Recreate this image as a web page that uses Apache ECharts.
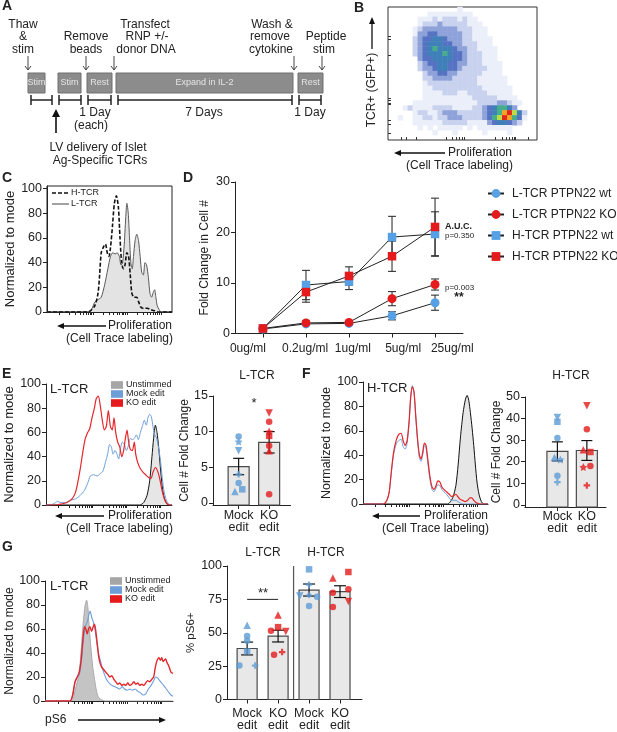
<!DOCTYPE html>
<html><head><meta charset="utf-8">
<script src="https://cdn.jsdelivr.net/npm/echarts@6/dist/echarts.min.js"></script>
<style>html,body{margin:0;padding:0;background:#fff}#c{width:617px;height:732px}</style>
</head><body><div id="c"></div><script>
const FONT = '"Liberation Sans", Arial, Helvetica, sans-serif';
const BLUE = '#5b9bd5', RED = '#e41a1c', DBLUE = '#56a0e6';

// ---------- Panel B: density grid (rows top->bottom, level 0-9)
const bDensity = [
"000000000000001000000000000000",
"000000001111111110000000000000",
"000000111212221211000000000000",
"000000122232222211100000000000",
"000001233333332221110000000000",
"000001334433333221110000000000",
"000002344554333221111000000000",
"000002345554433222111000000000",
"000002345655543322111100000000",
"000002345556544322211100000000",
"000000344555544322211100000000",
"000000234455443322211110000000",
"000000233455443222221110000000",
"000000023344332222211110000000",
"000000022333322222111111000000",
"000000012222222222111111000000",
"000000011222222222211111100000",
"000000011112221122221111100000",
"000000011111111112222211110000",
"000001111111111111222233211000",
"000121111222211112234566530000",
"000001221123332222234568975200",
"001001122122333222234679864100",
"000001111112222211113455432000",
"000000101011111010111111100000",
"000000000100010000010000100000",
"000000000000000000000000000000"];
const bColors = ['#ffffff','#ebeff9','#c8d2ee','#8ea2d9','#5573c2','#3f80b8','#47ae8c','#bddc45','#f4a323','#e5231d'];
// B axis tick positions (0-100 scale of each axis)
const bTicksX = [8.7,12,18.7,38.8,43.2,45.9,48.1,49.9,51.2,72.2,76.6,79.3,81.5,83.3,84.6,85.5,94.4];
const bTicksY = [4.9,12.2,14.6,26.8,28,29.8,31.7,63.4,75.6,78];

// ---------- Panel C histograms [channel, % of mode]
const cHTCR = [[0,0],[31.6,0],[34.2,0.5],[38.2,5],[40.8,15],[42.1,30],[43.4,48],[45.3,53],[46.8,55],[48.2,48],[49.5,45],[50.8,52],[52.4,70],[53.9,88],[55.5,94],[57.1,85],[58.4,60],[59.7,40],[61.1,35],[62.4,38],[63.9,48],[65.3,45],[66.6,30],[67.9,15],[69.7,12],[71.8,12],[73.4,8],[75,4],[77.1,3],[80.3,3],[82.9,2],[86.1,1],[88.7,0],[100,0]];
const cLTCR = [[0,0],[31.6,0],[35.5,2],[38.2,8],[40.8,10],[43.4,12],[46.1,22],[48.7,35],[50.8,45],[52.6,48],[54.5,47],[56.1,48],[57.9,45],[59.2,38],[60.5,40],[61.8,55],[63.2,80],[63.9,88],[65,80],[66,60],[67.1,40],[68.2,35],[69.2,45],[70.5,58],[71.8,63],[73.2,58],[74.5,45],[75.8,32],[77.1,30],[78.4,40],[79.7,38],[81.1,28],[82.4,15],[83.7,12],[85,16],[86.1,18],[87.1,12],[88.2,5],[89.7,2],[91.3,0],[100,0]];
// log-decade starts used for histogram x-axis ticks
const histDecades = [10, 37, 64];

// ---------- Panel D
const doseLabels = ['0ug/ml','0.2ug/ml','1ug/ml','5ug/ml','25ug/ml'];
const ltcrWt = [0.9,1.9,2.0,3.5,6.1],  ltcrWtSem = [0.1,0.3,0.3,0.8,1.5];
const ltcrKo = [1.0,2.1,2.2,6.9,9.7],  ltcrKoSem = [0.1,0.4,0.3,1.4,1.1];
const htcrWt = [1.0,9.6,10.3,19.1,19.7], htcrWtSem = [0.1,2.9,1.6,4.1,4.4];
const htcrKo = [1.0,8.2,11.4,15.3,21.1], htcrKoSem = [0.1,2.0,1.8,3.0,5.7];
const dNames = ['L-TCR PTPN22 wt','L-TCR PTPN22 KO','H-TCR PTPN22 wt','H-TCR PTPN22 KO'];

// ---------- Panel E histograms
const eUnstim = [[0,0],[74.3,0],[77.5,2],[80.2,8],[82.3,20],[84.1,40],[85.4,55],[86.8,66],[88.1,60],[89.4,48],[90.7,32],[92.3,15],[93.9,6],[96,1],[98.1,0],[100,0]];
const eMock = [[0,0],[2.1,0],[6.1,1],[9.3,3],[11.4,2],[15.3,2],[19.3,4],[23.3,5],[27.2,8],[30.4,12],[33.1,18],[35.2,24],[37.8,25],[40.5,24],[43.1,26],[45.2,28],[47.1,35],[48.9,42],[50.5,50],[51.9,48],[53.2,42],[54.8,45],[56.3,42],[57.7,38],[59,46],[60.6,52],[62.2,50],[63.8,45],[65.1,48],[66.9,55],[68.5,54],[70.1,55],[71.7,58],[73.3,54],[74.9,60],[76.5,65],[78,70],[79.6,66],[80.9,72],[82.3,75],[83.6,73],[84.9,65],[86.2,58],[87.6,56],[89.2,48],[90.7,38],[92.3,22],[93.9,10],[96,3],[98.7,0],[100,0]];
const eKO = [[0,0],[8.7,0],[12.7,1],[16.7,2],[20.6,5],[23.3,10],[25.1,18],[27.2,30],[29.4,45],[31.2,55],[33.1,60],[34.7,63],[36.5,72],[38.4,80],[39.9,88],[41.5,90],[43.1,82],[44.7,70],[46.3,62],[47.9,65],[49.5,78],[51.1,65],[52.6,62],[54,72],[55.3,60],[56.9,52],[58.5,48],[60.1,40],[61.6,45],[63,55],[64.3,62],[65.6,52],[66.9,46],[68.5,45],[70.1,52],[71.2,42],[72.8,35],[74.9,30],[77.1,27],[79.1,25],[81.2,23],[83.3,22],[84.9,27],[86.8,31],[88.6,28],[90.2,22],[92.1,12],[93.9,5],[96,1],[98.1,0],[100,0]];

// ---------- Panel E bars (L-TCR cell # fold change)
const editLabels = ['Mock\nedit','KO\nedit'];
const eMeans = [5.1, 8.5], eSems = [1.15, 1.5];
const eMockPts = [9.3,8.6,7.3,4.0,2.8,1.6,1.9], eMockSym = ['o','*','v','+','o','^','s'], eMockDx = [0,0,0,0,0,-0.12,0.12];
const eKoPts = [12.6,11.4,10.0,9.4,8.0,7.3,1.2], eKoSym = ['v','o','*','s','o','^','o'], eKoDx = [0,0,0,0,0,0,0];

// ---------- Panel F histograms
const fUnstim = [[0,0],[67.6,0],[70,2],[72.1,6],[74.3,15],[76.1,32],[78,55],[80.1,75],[82,86],[83.3,89],[84.6,85],[85.9,75],[87.3,62],[88.6,48],[89.9,32],[91.2,18],[92.8,8],[94.7,2],[96.6,0],[100,0]];
const fMock = [[0,0],[16.4,0],[19.1,3],[21,10],[22.5,24],[24.4,40],[26.5,49],[28.6,52],[30.5,53],[32.1,47],[33.7,45],[35.3,50],[36.9,67],[38.2,88],[39.5,97],[40.8,92],[42.2,72],[43.5,54],[45.1,38],[46.4,35],[47.7,40],[49.1,48],[50.4,46],[51.7,35],[53.6,20],[55.2,12],[56.8,10],[58.4,13],[59.9,16],[61.5,15],[63.1,12],[64.7,10],[66.8,8],[69,5],[70.8,3],[72.7,3],[74.3,3],[75.9,2],[77.5,1],[80.1,0],[100,0]];
const fKO = [[0,0],[16.4,0],[19.1,3],[21,10],[22.5,25],[24.4,42],[26.5,52],[28.6,57],[30.5,58],[32.1,52],[33.7,48],[35.3,52],[36.9,68],[38.2,88],[39.5,96],[40.8,92],[42.2,72],[43.5,55],[45.1,40],[46.4,37],[47.7,42],[49.1,50],[50.4,48],[51.7,38],[53.6,22],[55.2,14],[56.8,12],[58.4,15],[59.9,19],[61.5,18],[63.1,14],[64.7,12],[66.8,10],[69,8],[70.8,6],[72.7,7],[74.3,8],[75.9,6],[77.5,4],[79.6,3],[81.7,2],[83.8,3],[85.4,5],[87,5],[88.6,3],[90.7,1],[93.4,0],[100,0]];

// ---------- Panel F bars (H-TCR)
const fMeans = [24.8, 25.2], fSems = [4.4, 4.6];
const fMockPts = [40.5,38.5,31,22,21,13.5,10.5], fMockSym = ['v','s','o','^','*','o','+'], fMockDx = [0,0,0,-0.1,0.1,0,0];
const fKoPts = [46,35,25.5,24.5,18,17.5,9], fKoSym = ['v','o','^','s','o','*','+'], fKoDx = [0,0,-0.12,0.12,0.12,-0.12,0];

// ---------- Panel G histograms
const gUnstim = [[0,0],[20.8,0],[22.6,5],[24.2,12],[25.7,18],[27.3,30],[28.8,50],[30.1,68],[31.4,80],[32.5,84],[33.5,78],[34.5,62],[35.8,45],[37.1,30],[38.7,18],[40.3,8],[41.8,3],[44.2,1],[46.8,0],[100,0]];
const gMock = [[0,0],[19.5,0],[21.6,5],[23.4,15],[25.2,20],[26.8,22],[28.3,32],[29.9,50],[31.4,62],[33,66],[34.3,72],[35.3,75],[36.4,70],[37.7,66],[39,60],[40.3,50],[41.8,40],[43.4,33],[44.9,27],[46.5,22],[48.1,18],[50.1,15],[52.2,13],[54.3,12],[56.4,11],[58.4,10],[60.3,12],[62.1,10],[64.2,9],[66.2,10],[68.3,9],[70.4,10],[72.5,8],[74.5,7],[76.6,5],[78.7,6],[80.8,10],[82.9,13],[84.9,17],[86.5,20],[88.1,19],[89.6,17],[91.2,15],[92.7,13],[94.8,10],[96.9,7],[98.4,5],[100,4]];
const gKO = [[0,0],[19.5,0],[21.6,5],[23.4,16],[25.2,20],[26.8,24],[28.3,35],[29.9,55],[30.9,62],[31.9,60],[33,56],[34,60],[35.1,62],[36.4,58],[37.7,62],[38.7,64],[39.7,58],[40.8,48],[41.8,38],[42.9,32],[44.4,28],[46,26],[47.5,24],[49.1,22],[50.6,20],[52.2,21],[53.8,18],[55.3,16],[56.9,14],[58.4,15],[60,13],[61.6,14],[63.1,13],[64.7,15],[66.2,13],[67.8,14],[69.4,16],[70.9,14],[72.5,15],[74,13],[75.6,14],[77.1,13],[78.7,15],[80.3,17],[81.8,16],[83.4,18],[84.9,20],[86,27],[87,32],[88.1,35],[89.1,36],[90.1,34],[91.2,36],[92.2,33],[93.2,34],[94.3,35],[95.3,32],[96.4,30],[97.4,27],[98.4,24],[100,23]];

// ---------- Panel G bars (% pS6+)
const gLabels = ['Mock\nedit','KO\nedit','Mock\nedit','KO\nedit'];
const gMeans = [38.2, 47.5, 82.0, 80.8], gSems = [4.8, 4.4, 4.5, 4.4];
const gMockLPts = [55.7,47.5,44,36,25.4,25.4], gMockLSym = ['^','o','o','s','o','+'], gMockLDx = [0,0,0,0,-0.25,0.26];
const gKoLPts = [63.3,54.2,51.5,51,33.5,35.5], gKoLSym = ['^','s','o','v','o','+'], gKoLDx = [0,0,-0.23,0.25,-0.13,0.13];
const gMockHPts = [97.5,86,77.5,78,77,70], gMockHSym = ['s','+','v','d','o','o'], gMockHDx = [0,0,-0.3,0,0.26,0];
const gKoHPts = [91,95.5,80,82.5,69.2,73.4], gKoHSym = ['^','s','o','o','o','v'], gKoHDx = [-0.23,0.27,-0.23,0.27,-0.23,0.27];

// ================= build =================
const SYM = {
  'o':'circle','^':'triangle','s':'rect','d':'diamond',
  'v':'path://M-5,-4L5,-4L0,5Z',
  '*':'path://M0,-10L2.9,-4L9.5,-3.1L4.7,1.5L5.9,8.1L0,5L-5.9,8.1L-4.7,1.5L-9.5,-3.1L-2.9,-4Z',
  '+':'path://M-2,-6H2V-2H6V2H2V6H-2V2H-6V-2H-2Z'
};
const grids=[], xAxes=[], yAxes=[], series=[], G=[];
const AX = '#222';
const lineS = {show:true, onZero:false, lineStyle:{color:AX, width:1}};
const lab = (o)=>Object.assign({color:AX, fontFamily:FONT, fontSize:12.5}, o||{});
function addGrid(g){ grids.push(g); return grids.length-1; }
const histTicks = [];
histDecades.forEach(d=>{for(let k=1;k<=9;k++) histTicks.push(+(d+27*Math.log10(k)).toFixed(2));});
histTicks.push(91);

// Panel B heatmap
const gB = addGrid({left:388, top:7, width:149, height:133, show:true, borderColor:'#333', borderWidth:1, backgroundColor:'#fff'});
xAxes.push({gridIndex:gB, type:'category', data:bDensity[0].split('').map((_,i)=>i), show:false});
yAxes.push({gridIndex:gB, type:'category', data:bDensity.map((_,i)=>i), inverse:true, show:false});
const bData=[];
bDensity.forEach((row,r)=>row.split('').forEach((ch,c)=>{const v=+ch; if(v>0) bData.push([c,r,v]);}));
series.push({type:'heatmap', xAxisIndex:gB, yAxisIndex:gB, data:bData, silent:true});
const heatIdx = series.length-1;

// Histogram grids
function histGrid(g, yName, nameGap, nameSize, ymax){
  const gi = addGrid(g);
  xAxes.push({gridIndex:gi, type:'value', min:0, max:100, axisLine:lineS,
    axisTick:{show:true, length:3, lineStyle:{color:AX}, customValues:histTicks}, axisLabel:{show:false}, splitLine:{show:false}});
  yAxes.push({gridIndex:gi, type:'value', min:0, max:ymax||100, axisLine:lineS,
    axisTick:{show:true, length:4, lineStyle:{color:AX}, customValues:[0,20,40,60,80,100]},
    axisLabel:lab({customValues:[0,20,40,60,80,100], margin:5}), splitLine:{show:false},
    name:yName, nameLocation:'middle', nameGap:nameGap, nameTextStyle:{fontFamily:FONT, fontSize:nameSize, color:AX}});
  return gi;
}
function hist(gi, data, color, width, opts){
  series.push(Object.assign({type:'line', xAxisIndex:gi, yAxisIndex:gi, data, showSymbol:false, symbol:'none', smooth:0.25, silent:true,
    lineStyle:{color, width}}, opts||{}));
}
// C
const gC = histGrid({left:47, top:186, width:125, height:126, show:true, borderColor:AX, borderWidth:1}, 'Normalized to mode', 26, 13, 102);
hist(gC, cLTCR, '#5a5a5a', 1, {areaStyle:{color:'#e3e3e3', opacity:1}});
hist(gC, cHTCR, '#111', 1.6, {lineStyle:{color:'#111', width:1.6, type:[4,2]}});

// D
const gD = addGrid({left:235, top:182, width:228, height:151.5});
xAxes.push({gridIndex:gD, type:'value', min:-0.65, max:4.65, axisLine:lineS,
  axisTick:{show:true, length:4, lineStyle:{color:AX}, customValues:[0,1,2,3,4]},
  axisLabel:lab({customValues:[-0.35,0.98,2.09,3.26,4.4], formatter:v=>doseLabels[Math.round(v)], margin:9, fontSize:12}), splitLine:{show:false}});
yAxes.push({gridIndex:gD, type:'value', min:0, max:30, axisLine:lineS,
  axisTick:{show:true, length:4, lineStyle:{color:AX}, customValues:[0,10,20,30]},
  axisLabel:lab({customValues:[0,10,20,30], margin:5}), splitLine:{show:false},
  name:'Fold Change in Cell #', nameLocation:'middle', nameGap:24, nameTextStyle:{fontFamily:FONT, fontSize:12, color:AX}});
function errSeries(gi, vals, sems, cw, color){
  series.push({type:'custom', xAxisIndex:gi, yAxisIndex:gi, silent:true, z:2,
    data: vals.map((v,i)=>[i,v,sems[i]]), encode:{x:0,y:1},
    renderItem:(p,api)=>{
      const x=api.value(0), m=api.value(1), s=api.value(2);
      const hi=api.coord([x,m+s]), lo=api.coord([x,m-s]);
      const st={stroke:color||'#333', lineWidth:1.1};
      return {type:'group', children:[
        {type:'line', shape:{x1:hi[0],y1:hi[1],x2:lo[0],y2:lo[1]}, style:st},
        {type:'line', shape:{x1:hi[0]-cw/2,y1:hi[1],x2:hi[0]+cw/2,y2:hi[1]}, style:st},
        {type:'line', shape:{x1:lo[0]-cw/2,y1:lo[1],x2:lo[0]+cw/2,y2:lo[1]}, style:st}]};
    }});
}
const dSets = [[ltcrWt,ltcrWtSem,DBLUE,'circle',9],[ltcrKo,ltcrKoSem,RED,'circle',9],[htcrWt,htcrWtSem,DBLUE,'rect',8.5],[htcrKo,htcrKoSem,RED,'rect',8.5]];
dSets.forEach(d=>errSeries(gD,d[0],d[1],8,'#333'));
dSets.forEach((d,k)=>series.push({type:'line', name:dNames[k], xAxisIndex:gD, yAxisIndex:gD, z:4,
  data:d[0].map((v,i)=>[i,v]), symbol:d[3], symbolSize:d[4], showSymbol:true,
  lineStyle:{color:'#222', width:1}, itemStyle:{color:d[2]}}));

// E hist
const gEh = histGrid({left:46, top:384, width:126, height:121}, 'Normalized to mode', 27, 13);
hist(gEh, eUnstim, '#111', 1, {areaStyle:{color:'#e6e6e6', opacity:1}});
hist(gEh, eMock, '#6d9ed8', 1);
hist(gEh, eKO, '#e5262b', 1.2);

// bar grids
function barGrid(g, ymin, ymax, yticks, labels, xmin, xmax, yName, nameGap, nameSize, margin){
  const gi = addGrid(g);
  const xs = labels.map((_,i)=>i);
  xAxes.push({gridIndex:gi, type:'value', min:xmin, max:xmax, axisLine:lineS,
    axisTick:{show:true, length:4, lineStyle:{color:AX}, customValues:xs},
    axisLabel:lab({customValues:xs, formatter:v=>labels[Math.round(v)], margin:margin, lineHeight:12}), splitLine:{show:false}});
  yAxes.push({gridIndex:gi, type:'value', min:ymin, max:ymax, axisLine:lineS,
    axisTick:{show:true, length:4, lineStyle:{color:AX}, customValues:yticks},
    axisLabel:lab({customValues:yticks, margin:5}), splitLine:{show:false},
    name:yName, nameLocation:'middle', nameGap:nameGap, nameTextStyle:{fontFamily:FONT, fontSize:nameSize, color:AX}});
  return gi;
}
function bars(gi, means, sems, ymin, bw, cw){
  series.push({type:'custom', xAxisIndex:gi, yAxisIndex:gi, silent:true, z:2,
    data: means.map((m,i)=>[i,m,sems[i]]), encode:{x:0,y:1},
    renderItem:(p,api)=>{
      const x=api.value(0), m=api.value(1), s=api.value(2);
      const top=api.coord([x,m]), base=api.coord([x,ymin]), hi=api.coord([x,m+s]), lo=api.coord([x,m-s]);
      const st={stroke:'#111', lineWidth:1.2};
      return {type:'group', children:[
        {type:'rect', shape:{x:top[0]-bw/2, y:top[1], width:bw, height:base[1]-top[1]}, style:{fill:'#e8e8e8', stroke:'#4a4a4a', lineWidth:1.2}},
        {type:'line', shape:{x1:hi[0],y1:hi[1],x2:lo[0],y2:lo[1]}, style:st},
        {type:'line', shape:{x1:hi[0]-cw/2,y1:hi[1],x2:hi[0]+cw/2,y2:hi[1]}, style:st},
        {type:'line', shape:{x1:lo[0]-cw/2,y1:lo[1],x2:lo[0]+cw/2,y2:lo[1]}, style:st}]};
    }});
}
function pts(gi, xi, vals, syms, dx, color){
  series.push({type:'scatter', xAxisIndex:gi, yAxisIndex:gi, silent:true, z:5,
    data: vals.map((v,i)=>({value:[xi+dx[i], v], symbol:SYM[syms[i]], symbolSize: syms[i]==='*'?8:(syms[i]==='^'||syms[i]==='v'?7.5:6.5)})),
    itemStyle:{color}});
}
// E bars
const gEb = barGrid({left:213, top:396, width:77.5, height:109}, -0.3, 15, [0,5,10,15], editLabels, -0.84, 1.7, 'Cell # Fold Change', 15, 12, 5);
bars(gEb, eMeans, eSems, -0.3, 21, 11);
pts(gEb, 0, eMockPts, eMockSym, eMockDx, BLUE);
pts(gEb, 1, eKoPts, eKoSym, eKoDx, RED);

// F hist
const gFh = histGrid({left:363, top:382, width:125, height:122}, 'Normalized to mode', 30, 12.5);
hist(gFh, fUnstim, '#111', 1, {areaStyle:{color:'#e6e6e6', opacity:1}});
hist(gFh, fMock, '#6d9ed8', 1);
hist(gFh, fKO, '#e5262b', 1.2);

// F bars
const gFb = barGrid({left:525, top:397, width:81, height:110}, -1, 50, [0,10,20,30,40,50], editLabels, -1.1, 1.65, 'Cell # Fold Change', 11, 12, 4);
bars(gFb, fMeans, fSems, -1, 21, 11);
pts(gFb, 0, fMockPts, fMockSym, fMockDx, BLUE);
pts(gFb, 1, fKoPts, fKoSym, fKoDx, RED);

// G hist
const gGh = histGrid({left:45, top:581, width:128, height:120}, 'Normalized to mode', 24, 12);
hist(gGh, gUnstim, '#a9a9a9', 1, {areaStyle:{color:'#c4c4c4', opacity:1}});
hist(gGh, gMock, '#6d9ed8', 1.1);
hist(gGh, gKO, '#e5262b', 1.4);

// G bars
const gGb = barGrid({left:227, top:566, width:135, height:135}, 0, 100, [0,25,50,75,100], gLabels, -0.65, 3.71, '% pS6+', 28, 11.5, 8);
bars(gGb, gMeans, gSems, 0, 20, 12);
pts(gGb, 0, gMockLPts, gMockLSym, gMockLDx, BLUE);
pts(gGb, 1, gKoLPts, gKoLSym, gKoLDx, RED);
pts(gGb, 2, gMockHPts, gMockHSym, gMockHDx, BLUE);
pts(gGb, 3, gKoHPts, gKoHSym, gKoHDx, RED);
series.push({type:'line', xAxisIndex:gGb, yAxisIndex:gGb, data:[[1.5,0],[1.5,100]], symbol:'none', silent:true, lineStyle:{color:'#555', width:1.2}, z:3});
series.push({type:'line', xAxisIndex:gGb, yAxisIndex:gGb, data:[[0,75],[1,75]], symbol:'none', silent:true, lineStyle:{color:'#222', width:1}, z:3});

// B extra tick-only axes (appended after all grid-matched axes)
xAxes.push({gridIndex:gB, type:'value', position:'bottom', min:0, max:100, axisLine:{show:false},
  axisTick:{show:true, inside:true, length:3, lineStyle:{color:'#333'}, customValues:bTicksX}, axisLabel:{show:false}, splitLine:{show:false}});
yAxes.push({gridIndex:gB, type:'value', position:'left', min:0, max:100, axisLine:{show:false},
  axisTick:{show:true, inside:true, length:3, lineStyle:{color:'#333'}, customValues:bTicksY}, axisLabel:{show:false}, splitLine:{show:false}});

// ================= graphic texts =================
function T(x,y,text,o){o=o||{};return {type:'text', x, y, rotation:o.rot||0, silent:true, z:10,
  style:{text, fill:o.fill||AX, fontFamily:FONT, fontSize:o.size||12, fontWeight:o.bold?'bold':'normal', align:o.align||'center', verticalAlign:o.va||'middle'}};}
function Ln(x1,y1,x2,y2,c,w){return {type:'line', silent:true, z:10, shape:{x1,y1,x2,y2}, style:{stroke:c||AX, lineWidth:w||1}};}
function Poly(points,fill){return {type:'polygon', silent:true, z:10, shape:{points}, style:{fill:fill||AX}};}
function Rect(x,y,w,h,fill,stroke){return {type:'rect', silent:true, z:10, shape:{x,y,width:w,height:h}, style:{fill, stroke:stroke||null, lineWidth:1}};}

// letters
[['A',2,6],['B',354,8],['C',2,178],['D',183,178],['E',2,374],['F',302,374],['G',2,547]].forEach(a=>G.push(T(a[1],a[2],a[0],{bold:true,size:14,align:'left'})));

// Panel A schematic
[['Thaw',23,25],['&',23,37],['stim',23,50],['Remove',86,37],['beads',86,50],['Transfect',145,25],['RNP +/-',147,37],['donor DNA',146,50],
 ['Wash &',272,25],['remove',270,37],['cytokine',271,50],['Peptide',326,37],['stim',324,50],
 ['1 Day',95,113],['(each)',91,126],['7 Days',204,113],['1 Day',310,113],
 ['LV delivery of Islet',98,148],['Ag-Specific TCRs',100,161]].forEach(t=>G.push(T(t[1],t[2],t[0],{size:12})));
[[28,17,'Stim'],[58,23,'Stim'],[87,25,'Rest'],[116,177,'Expand in IL-2'],[298,25,'Rest']].forEach(b=>{
  G.push(Rect(b[0],73,b[1],20,'#8c8c8c','#6e6e6e'));
  G.push(T(b[0]+b[1]/2,83,b[2],{size:9,fill:'#e6e6e6'}));});
[[31,52],[59,81],[88,111],[118,292],[299,321]].forEach(b=>{
  G.push(Ln(b[0],100,b[1],100,'#222',1.5)); G.push(Ln(b[0],95,b[0],105,'#222',1.5)); G.push(Ln(b[1],95,b[1],105,'#222',1.5));});
[28,86,114,294,322].forEach(x=>{G.push(Ln(x,56,x,70,'#444',1));
  G.push({type:'polyline', silent:true, z:10, shape:{points:[[x-3,66],[x,70],[x+3,66]]}, style:{stroke:'#444', lineWidth:1, fill:null}});});
G.push(Ln(56,133,56,114,'#111',1.6)); G.push(Poly([[52,117],[56,109],[60,117]],'#111'));

// Panel B labels
G.push(T(372,90,'TCR+ (GFP+)',{rot:Math.PI/2,size:12}));
G.push(Ln(372,49,372,22,'#111',1.3)); G.push(Poly([[369,24],[372,17],[375,24]],'#111'));
function profLabel(xr, y, xa1, xa2){
  G.push(T(xr,y,'Proliferation',{align:'right',size:12}));
  G.push(T(xr+1,y+13,'(Cell Trace labeling)',{align:'right',size:12}));
  G.push(Ln(xa1+5,y,xa2,y,'#111',1.3)); G.push(Poly([[xa1+7,y-3],[xa1,y],[xa1+7,y+3]],'#111'));
}
profLabel(512,153,394,445);
profLabel(172,326,57,106);
profLabel(172,516,55,104);
profLabel(488,516,372,420);

// C legend
G.push({type:'line', silent:true, z:10, shape:{x1:52,y1:193,x2:69,y2:193}, style:{stroke:'#111', lineWidth:1.6, lineDash:[4,2]}});
G.push(T(71,193,'H-TCR',{align:'left',size:9}));
G.push(Ln(52,204,69,204,'#444',1)); G.push(T(71,204,'L-TCR',{align:'left',size:9}));

// D annotations
G.push(T(445,227,'A.U.C.',{align:'left',size:9,bold:true}));
G.push(T(445,236,'p=0.350',{align:'left',size:8}));
G.push(T(445,288,'p=0.003',{align:'left',size:8}));
G.push(T(459,298,'**',{size:12,bold:true}));

// small histogram legends
function histLegend(x, ys){
  const items=[['Unstimmed','#a6a6a6'],['Mock edit','#6d9ed8'],['KO edit','#e41a1c']];
  items.forEach((it,i)=>{G.push(Rect(x,ys[i]-3.8,12,7.6,it[1])); G.push(T(x+15,ys[i],it[0],{align:'left',size:9}));});
}
G.push(T(50,389,'L-TCR',{align:'left',size:13})); histLegend(111,[385,394,403]);
G.push(T(367,388,'H-TCR',{align:'left',size:13}));
G.push(T(50,586,'L-TCR',{align:'left',size:13})); histLegend(110,[581,590,599]);
G.push(T(45,720,'pS6',{align:'left',size:12}));
G.push(Ln(78,720,160,720,'#111',1.3)); G.push(Poly([[159,717],[166,720],[159,723]],'#111'));

// bar titles / stars
G.push(T(257,376,'L-TCR',{size:12})); G.push(T(254,403,'*',{size:13}));
G.push(T(571,376,'H-TCR',{size:12}));
G.push(T(263,553,'L-TCR',{size:12})); G.push(T(326,553,'H-TCR',{size:12}));
G.push(T(263,593,'**',{size:13}));

const option = {
  animation:false, backgroundColor:'#fff',
  textStyle:{fontFamily:FONT},
  grid:grids, xAxis:xAxes, yAxis:yAxes, series,
  visualMap:[{type:'piecewise', show:false, seriesIndex:heatIdx, dimension:2,
    pieces:bColors.map((c,i)=>({value:i, color:c}))}],
  legend:{data:dNames, left:487, top:187.5, padding:0, orient:'vertical', itemWidth:16, itemHeight:11, itemGap:9,
    textStyle:{fontFamily:FONT, fontSize:12, color:AX, padding:[0,0,0,3]}, selectedMode:false},
  graphic:{elements:G}
};
const chart = echarts.init(document.getElementById('c'), null, {renderer:'canvas', width:617, height:732});
chart.setOption(option);
</script></body></html>
